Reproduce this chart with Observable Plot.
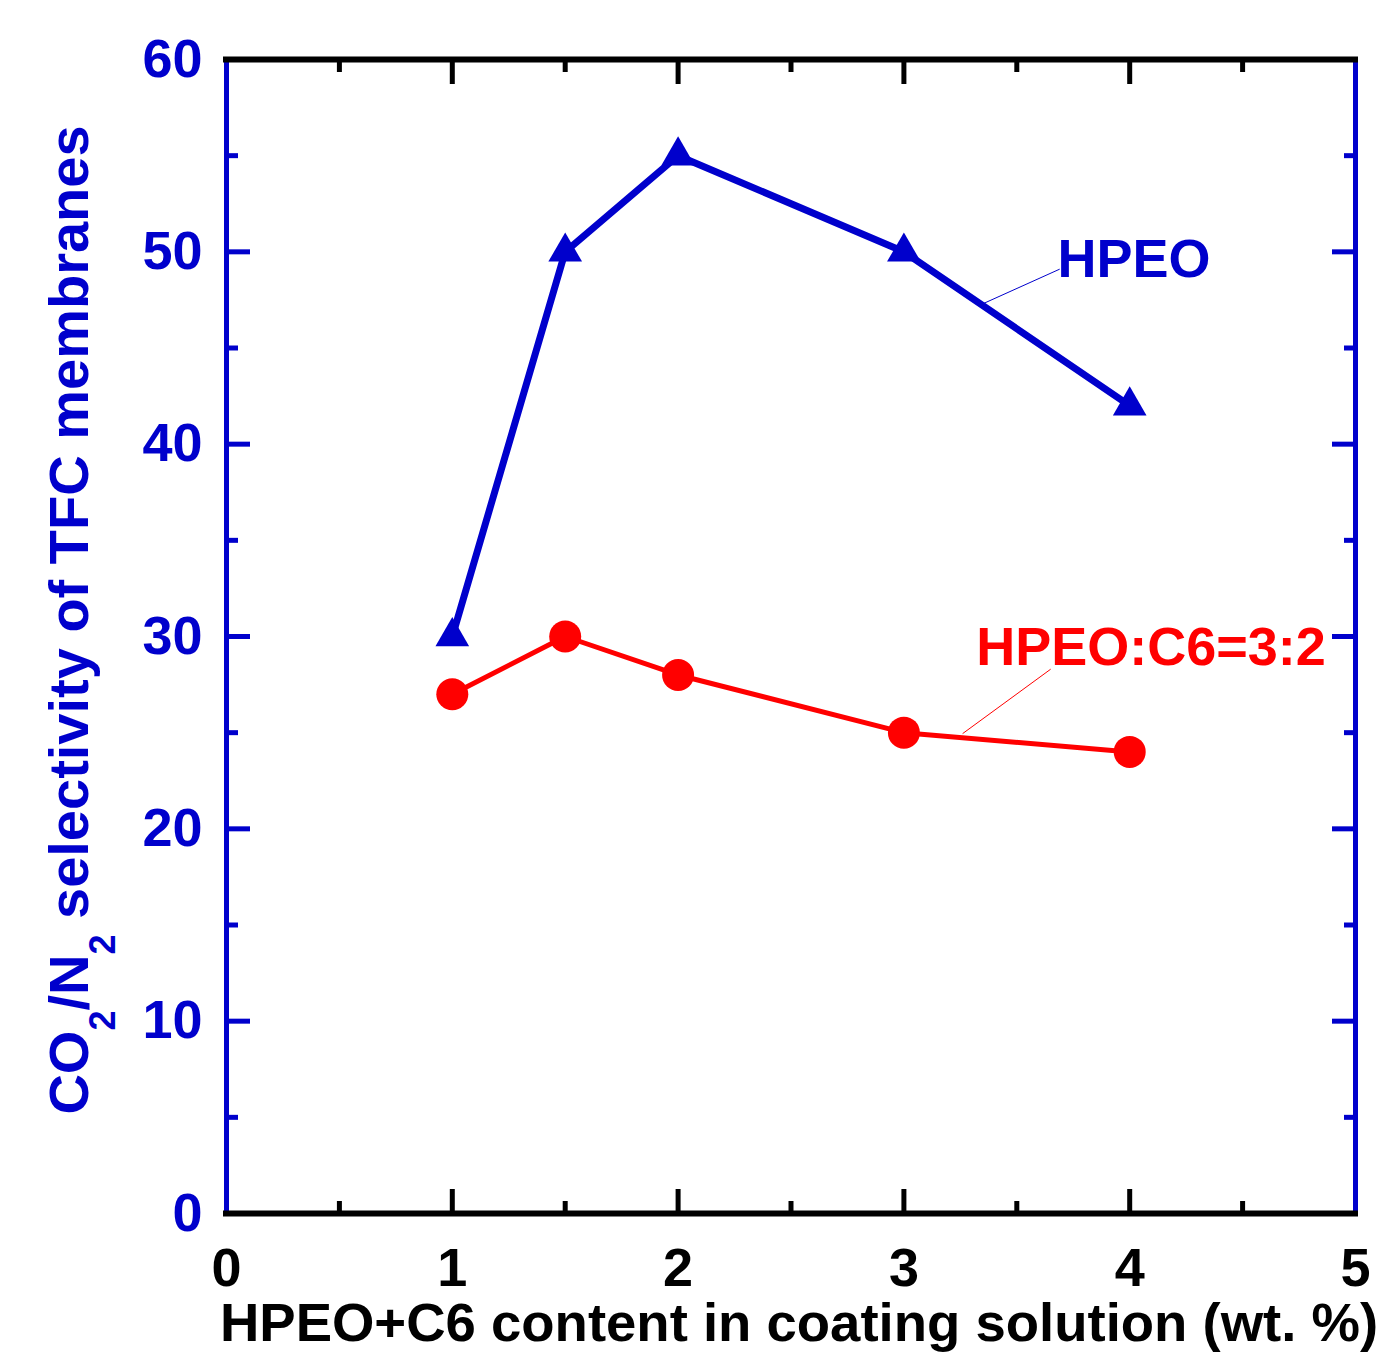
<!DOCTYPE html>
<html><head><meta charset="utf-8">
<script src="https://cdn.jsdelivr.net/npm/d3@7"></script>
<script src="https://cdn.jsdelivr.net/npm/@observablehq/plot@0.6"></script>
<style>body{margin:0;background:#fff;overflow:hidden}</style>
</head><body><div id="chart"></div>
<script>
// ---- data ----
const contents = [1, 1.5, 2, 3, 4];            // HPEO+C6 content (wt. %)
const hpeoSelectivity = [30, 50, 55, 50, 42];   // HPEO
const blendSelectivity = [27, 30, 28, 25, 24];  // HPEO:C6=3:2
const xTickLabels = [0, 1, 2, 3, 4, 5];
const xMajorTicks = [1, 2, 3, 4];
const xMinorTicks = [0.5, 1.5, 2.5, 3.5, 4.5];
const yTickLabels = [0, 10, 20, 30, 40, 50, 60];
const yMajorTicks = [10, 20, 30, 40, 50];
const yMinorTicks = [5, 15, 25, 35, 45, 55];
const seriesNames = ["HPEO", "HPEO:C6=3:2"];
const labelAnchors = [[3.68, 49.6], [3.32, 29.4]];
const calloutFrom = [[3.35, 47.3], [3.26, 24.95]];
const calloutTo = [[3.69, 49.1], [3.65, 28.3]];
const xTitle = "HPEO+C6 content in coating solution (wt. %)";

const BLUE = "#0000cc", RED = "#ff0000";
const colors = [BLUE, RED];
const hpeo = contents.map((x, i) => ({x, y: hpeoSelectivity[i]}));
const blend = contents.map((x, i) => ({x, y: blendSelectivity[i]}));
const labels = seriesNames.map((name, i) => ({name, x: labelAnchors[i][0], y: labelAnchors[i][1], color: colors[i]}));
const callouts = seriesNames.map((name, i) => ({x1: calloutFrom[i][0], y1: calloutFrom[i][1], x2: calloutTo[i][0], y2: calloutTo[i][1], color: colors[i]}));

const FS = 54;
const tickOpts = (ticks, anchor, size, color) =>
  (anchor === "bottom" || anchor === "top")
    ? Plot.axisX(ticks, {anchor, tickSize: -size, tickFormat: () => "", stroke: color, strokeWidth: 5, label: null})
    : Plot.axisY(ticks, {anchor, tickSize: -size, tickFormat: () => "", stroke: color, strokeWidth: 5, label: null});

const chart = Plot.plot({
  width: 1384, height: 1353,
  marginLeft: 226, marginRight: 29, marginTop: 59, marginBottom: 140,
  style: {fontFamily: "'Liberation Sans', Arial, sans-serif", fontWeight: "bold", background: "#fff"},
  x: {domain: [0, 5]},
  y: {domain: [0, 60]},
  marks: [
    Plot.axisX(xTickLabels, {anchor: "bottom", tickSize: 0, tickPadding: 34, tickFormat: d => String(d), fontSize: FS, fontWeight: "bold", fill: "black", label: null}),
    Plot.axisY(yTickLabels, {anchor: "left", tickSize: 0, tickPadding: 24, tickFormat: d => String(d), fontSize: FS, fontWeight: "bold", fill: BLUE, label: null}),
    tickOpts(xMajorTicks, "bottom", 24, "black"),
    tickOpts(xMinorTicks, "bottom", 12, "black"),
    tickOpts(xMajorTicks, "top", 24, "black"),
    tickOpts(xMinorTicks, "top", 12, "black"),
    tickOpts(yMajorTicks, "left", 24, BLUE),
    tickOpts(yMinorTicks, "left", 12, BLUE),
    tickOpts(yMajorTicks, "right", 24, BLUE),
    tickOpts(yMinorTicks, "right", 12, BLUE),
    Plot.ruleX([0, 5], {stroke: BLUE, strokeWidth: 5}),
    Plot.ruleY([0, 60], {stroke: "black", strokeWidth: 6, strokeLinecap: "square"}),
    Plot.link(callouts, {x1: "x1", y1: "y1", x2: "x2", y2: "y2", stroke: "color", strokeWidth: 1}),
    Plot.line(hpeo, {x: "x", y: "y", stroke: BLUE, strokeWidth: 7}),
    Plot.dot(hpeo, {x: "x", y: "y", symbol: "triangle", r: 12.5, fill: BLUE, stroke: "none"}),
    Plot.line(blend, {x: "x", y: "y", stroke: RED, strokeWidth: 5}),
    Plot.dot(blend, {x: "x", y: "y", r: 16, fill: RED, stroke: "none"}),
    Plot.text(labels, {x: "x", y: "y", text: "name", fill: "color", textAnchor: "start", lineAnchor: "middle", fontSize: FS, fontWeight: "bold"}),
    Plot.text([xTitle], {frameAnchor: "bottom", text: d => d, dy: 110, dx: 8, fontSize: 54.5, fontWeight: "bold", fill: "black", lineAnchor: "middle"})
  ]
});
document.getElementById("chart").appendChild(chart);

// y-axis title with subscripts
const svg = d3.select(chart);
const t = svg.append("text")
  .attr("transform", "translate(88,620) rotate(-90)")
  .attr("text-anchor", "middle")
  .attr("font-size", 56).attr("font-weight", "bold")
  .attr("fill", BLUE)
  .attr("font-family", "'Liberation Sans', Arial, sans-serif");
t.append("tspan").text("CO");
t.append("tspan").attr("font-size", 36).attr("dy", 27).text("2");
t.append("tspan").attr("dy", -27).text("/N");
t.append("tspan").attr("font-size", 36).attr("dy", 27).text("2");
t.append("tspan").attr("dy", -27).text(" selectivity of TFC membranes");
</script>
</body></html>
